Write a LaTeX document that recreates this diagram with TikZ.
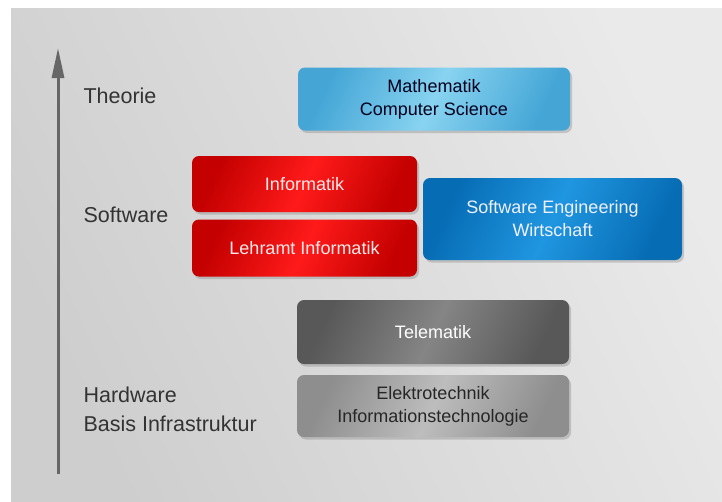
\documentclass[tikz,border=0pt]{standalone}
\usepackage{fontspec}
\setmainfont{Liberation Sans}
\usetikzlibrary{arrows.meta,shadows}

\definecolor{panelA}{HTML}{CECECE}
\definecolor{panelB}{HTML}{EAEAEA}
\definecolor{theoA}{HTML}{45A6D6}
\definecolor{theoB}{HTML}{88D3F0}
\definecolor{infoA}{HTML}{C40000}
\definecolor{infoB}{HTML}{FF1A1A}
\definecolor{sweA}{HTML}{066CB4}
\definecolor{sweB}{HTML}{2096E0}
\definecolor{teleA}{HTML}{585858}
\definecolor{teleB}{HTML}{858585}
\definecolor{elekA}{HTML}{8E8E8E}
\definecolor{elekB}{HTML}{BDBDBD}
\definecolor{axisgray}{HTML}{666666}

\tikzset{
  field/.style n args={3}{rounded corners=7pt, minimum width=#1, align=center,
    font=\fontsize{18}{23}\selectfont,
    drop shadow={opacity=0.35, shadow xshift=2pt, shadow yshift=-2.5pt},
    left color=#2, right color=#2, middle color=#3, shading angle=65},
  level/.style={anchor=west, align=left, text=black!80,
    font=\fontsize{21.5}{29}\selectfont}
}

\begin{document}
\begin{tikzpicture}[x=1pt, y=-1pt]
    \useasboundingbox (0, 0) rectangle (722, 501);
    \shade[left color=panelA, right color=panelB, shading angle=115] (11, 8) rectangle (722, 501);

    % Achse
    \coordinate (unten) at (58, 474);
    \coordinate (oben) at (58, 48);
    \draw[axisgray, line width=3pt, -{Triangle[length=30pt, width=12pt]}] (unten) to (oben);

    % Ebenen
    \node[level] (theorie) at (80, 96) {Theorie};
    \node[level] (software) at (80, 215) {Software};
    \node[level] (hardware) at (80, 409) {Hardware\\Basis Infrastruktur};

    % Studiengaenge
    \node[field={272pt}{theoA}{theoB}, minimum height=63pt, text=black!80!blue!60!black]
          (mathe) at (434, 99) {Mathematik\\Computer Science};
    \node[field={225pt}{infoA}{infoB}, minimum height=56pt, text=red!8]
          (info) at (304.5, 184) {Informatik};
    \node[field={225pt}{infoA}{infoB}, minimum height=57pt, text=red!8]
          (lehramt) at (304.5, 248) {Lehramt Informatik};
    \node[field={259pt}{sweA}{sweB}, minimum height=82pt, text=blue!6]
          (swe) at (552.5, 219) {Software Engineering\\Wirtschaft};
    \node[field={272pt}{teleA}{teleB}, minimum height=64pt, text=white]
          (tele) at (433, 332) {Telematik};
    \node[field={272pt}{elekA}{elekB}, minimum height=62pt, text=black!85]
          (elektro) at (433, 406) {Elektrotechnik\\Informationstechnologie};
\end{tikzpicture}
\end{document}
